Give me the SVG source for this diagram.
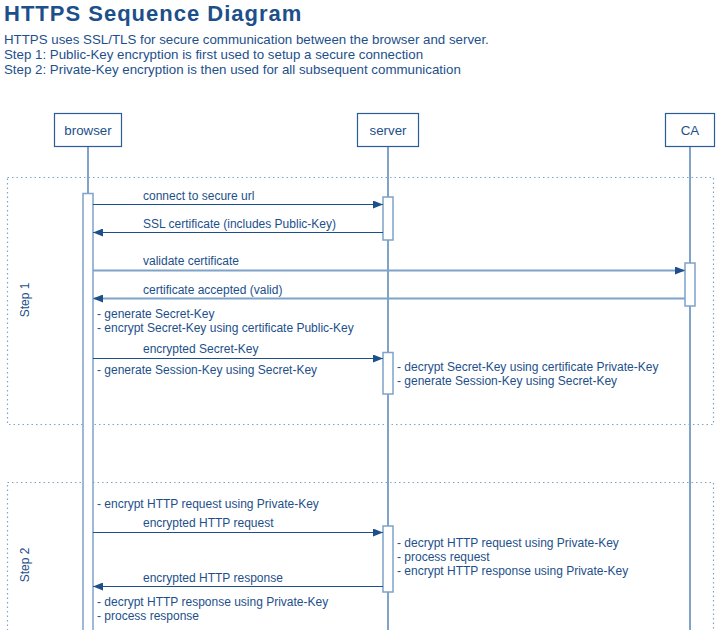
<svg xmlns="http://www.w3.org/2000/svg" width="718" height="630" viewBox="0 0 718 630">
<style>
text{font-family:"Liberation Sans",Arial,sans-serif;fill:#1d4f8b;font-size:13.3px}
.title{font-size:22px;font-weight:bold;letter-spacing:1px}
.lbl{font-size:12px}
.box{fill:#fff;stroke:#2a5d98;stroke-width:1.2}
.life{stroke:#7fa3c9;stroke-width:2;fill:none}
.act{fill:#fff;stroke:#7fa3c9;stroke-width:1.5}
.frame{fill:none;stroke:#7fa3c9;stroke-width:1.2;stroke-dasharray:1.5 3}
.msg{stroke:#1d4f8b;stroke-width:1.2;fill:none}
.msgl{stroke:#7fa3c9;stroke-width:2;fill:none}
</style>
<defs>
<marker id="ah" viewBox="0 0 10 8" refX="10" refY="4" markerWidth="10" markerHeight="8" markerUnits="userSpaceOnUse" orient="auto">
<path d="M0,0 L10,4 L0,8 z" fill="#1d4f8b"/>
</marker>
</defs>
<text class="title" x="4" y="20.5">HTTPS Sequence Diagram</text>
<text x="4" y="44">HTTPS uses SSL/TLS for secure communication between the browser and server.</text>
<text x="4" y="59">Step 1: Public-Key encryption is first used to setup a secure connection</text>
<text x="4" y="74">Step 2: Private-Key encryption is then used for all subsequent communication</text>

<g id="frames">
<rect class="frame" x="7.5" y="177.5" width="706" height="247"/>
<rect class="frame" x="7.5" y="482.5" width="706" height="160"/>
<text class="lbl" transform="translate(29,300) rotate(-90)" text-anchor="middle">Step 1</text>
<text class="lbl" transform="translate(29,565) rotate(-90)" text-anchor="middle">Step 2</text>
</g>

<g id="browser">
<line class="life" x1="88" y1="146" x2="88" y2="630"/>
<rect class="box" x="54.5" y="113.5" width="67" height="33"/>
<text x="88" y="135" text-anchor="middle">browser</text>
<rect class="act" x="83" y="193.5" width="10" height="440"/>
</g>
<g id="server">
<line class="life" x1="388" y1="146" x2="388" y2="630"/>
<rect class="box" x="357.5" y="113.5" width="61" height="33"/>
<text x="388" y="135" text-anchor="middle">server</text>
<rect class="act" x="383" y="197" width="10" height="43"/>
<rect class="act" x="383" y="352.5" width="10" height="41.5"/>
<rect class="act" x="383" y="526" width="10" height="66"/>
</g>
<g id="ca">
<line class="life" x1="690" y1="146" x2="690" y2="630"/>
<rect class="box" x="665.5" y="113.5" width="49" height="33"/>
<text x="690" y="135" text-anchor="middle">CA</text>
<rect class="act" x="685" y="263" width="10" height="43"/>
</g>

<g id="connectors">
<line class="msg" x1="93" y1="204.5" x2="383" y2="204.5" marker-end="url(#ah)"/>
<line class="msg" x1="383" y1="232.5" x2="93" y2="232.5" marker-end="url(#ah)"/>
<line class="msgl" x1="93" y1="270.5" x2="685" y2="270.5" marker-end="url(#ah)"/>
<line class="msgl" x1="685" y1="298.5" x2="93" y2="298.5" marker-end="url(#ah)"/>
<line class="msg" x1="93" y1="358.5" x2="383" y2="358.5" marker-end="url(#ah)"/>
<line class="msg" x1="93" y1="532.5" x2="383" y2="532.5" marker-end="url(#ah)"/>
<line class="msg" x1="383" y1="586.5" x2="93" y2="586.5" marker-end="url(#ah)"/>
</g>

<g id="labels">
<text class="lbl" x="143" y="200">connect to secure url</text>
<text class="lbl" x="143" y="228">SSL certificate (includes Public-Key)</text>
<text class="lbl" x="143" y="265">validate certificate</text>
<text class="lbl" x="143" y="294">certificate accepted (valid)</text>
<text class="lbl" x="97" y="318">- generate Secret-Key</text>
<text class="lbl" x="97" y="332">- encrypt Secret-Key using certificate Public-Key</text>
<text class="lbl" x="143" y="353">encrypted Secret-Key</text>
<text class="lbl" x="97" y="374">- generate Session-Key using Secret-Key</text>
<text class="lbl" x="397" y="371">- decrypt Secret-Key using certificate Private-Key</text>
<text class="lbl" x="397" y="385">- generate Session-Key using Secret-Key</text>
<text class="lbl" x="97" y="508">- encrypt HTTP request using Private-Key</text>
<text class="lbl" x="143" y="527">encrypted HTTP request</text>
<text class="lbl" x="397" y="547">- decrypt HTTP request using Private-Key</text>
<text class="lbl" x="397" y="561">- process request</text>
<text class="lbl" x="397" y="575">- encrypt HTTP response using Private-Key</text>
<text class="lbl" x="143" y="582">encrypted HTTP response</text>
<text class="lbl" x="97" y="606">- decrypt HTTP response using Private-Key</text>
<text class="lbl" x="97" y="620">- process response</text>
</g>
</svg>
